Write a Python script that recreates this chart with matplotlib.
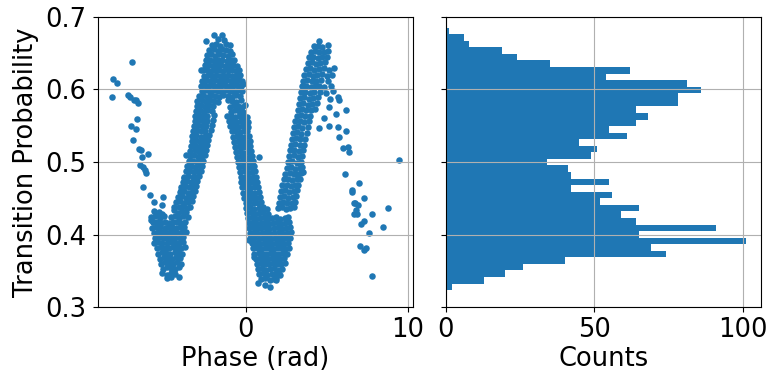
import numpy as np
import matplotlib
matplotlib.use('Agg')
from matplotlib import pyplot as plt

# (phase, probability) points, split by region
left_tail = [(-8.20,.589),(-8.14,.614),(-7.90,.609),(-7.01,.637),(-7.26,.592),(-7.12,.590),
    (-6.87,.585),(-6.71,.585),(-6.61,.581),(-6.67,.559),(-7.04,.549),(-6.71,.545),(-6.91,.530),
    (-6.54,.518),(-6.44,.516),(-6.36,.507),(-5.99,.511),(-6.50,.496),(-6.30,.493),(-6.20,.489),
    (-6.13,.485),(-6.30,.466),(-5.85,.455),(-5.63,.445),(-5.07,.452),(-5.13,.441),(-5.79,.420),
    (-5.72,.418),(-5.38,.429),(-5.13,.429)]

left_valley = [(-5.62,.433),(-5.35,.431),(-4.42,.434),(-4.18,.430),(-3.93,.433),(-3.66,.431),
    (-5.81,.424),(-5.55,.426),(-5.28,.423),(-5.02,.425),(-4.60,.424),(-4.33,.426),(-4.07,.423),(-3.82,.425),(-3.57,.424),
    (-5.70,.417),(-5.46,.418),(-5.19,.416),(-4.93,.418),(-4.71,.416),(-4.47,.418),(-4.22,.417),(-3.96,.416),(-3.71,.418),
    (-5.76,.409),(-5.51,.411),(-5.24,.410),(-4.98,.409),(-4.76,.411),(-4.52,.410),(-4.27,.409),(-4.01,.411),(-3.76,.410),
    (-5.66,.402),(-5.41,.404),(-5.16,.403),(-4.91,.402),(-4.66,.404),(-4.41,.403),(-4.16,.402),(-3.91,.404),(-3.67,.403),
    (-5.58,.395),(-5.31,.397),(-5.06,.396),(-4.81,.395),(-4.56,.397),(-4.31,.396),(-4.06,.395),(-3.82,.397),
    (-5.62,.388),(-5.36,.390),(-5.11,.389),(-4.86,.388),(-4.61,.390),(-4.36,.389),(-4.11,.388),(-3.86,.390),
    (-5.47,.381),(-5.22,.383),(-4.97,.382),(-4.72,.381),(-4.47,.383),(-4.22,.382),(-3.97,.381),(-3.72,.383),
    (-5.38,.374),(-5.12,.376),(-4.87,.375),(-4.62,.374),(-4.37,.376),(-4.12,.375),(-3.88,.374),
    (-5.27,.367),(-5.02,.369),(-4.77,.368),(-4.52,.367),(-4.27,.369),(-4.02,.368),
    (-5.21,.360),(-4.96,.362),(-4.71,.361),(-4.46,.360),(-4.21,.362),(-3.98,.360),
    (-5.08,.353),(-4.83,.355),(-4.58,.354),(-4.33,.353),(-4.12,.355),
    (-5.12,.347),(-4.86,.345),(-4.60,.347),(-4.35,.346),
    (-4.85,.340),(-4.60,.342),(-4.09,.342)]

left_rise = [(-4.38,.438),(-4.12,.438),(-3.87,.439),(-3.62,.437),(-3.44,.438),
    (-4.27,.445),(-4.02,.446),(-3.77,.444),(-3.52,.445),(-3.30,.446),
    (-4.17,.452),(-3.92,.453),(-3.67,.451),(-3.42,.452),(-3.24,.453),
    (-4.06,.459),(-3.81,.460),(-3.56,.458),(-3.31,.459),(-3.14,.460),
    (-3.96,.466),(-3.71,.467),(-3.46,.465),(-3.21,.466),(-3.05,.467),
    (-3.86,.473),(-3.61,.474),(-3.36,.472),(-3.11,.473),(-2.96,.474),
    (-3.76,.480),(-3.51,.481),(-3.26,.479),(-3.01,.480),(-2.86,.481),
    (-3.66,.487),(-3.41,.488),(-3.16,.486),(-2.91,.487),(-2.76,.488),
    (-3.58,.494),(-3.33,.495),(-3.08,.493),(-2.83,.494),(-2.68,.495),
    (-3.49,.501),(-3.24,.502),(-2.99,.500),(-2.74,.501),(-2.60,.502),
    (-3.43,.508),(-3.18,.509),(-2.93,.507),(-2.68,.508),(-2.50,.509),
    (-3.39,.515),(-3.14,.516),(-2.89,.514),(-2.64,.515),(-2.43,.516),
    (-3.35,.522),(-3.10,.523),(-2.85,.521),(-2.60,.522),(-2.37,.523),
    (-3.31,.529),(-3.06,.530),(-2.81,.528),(-2.56,.529),(-2.30,.530),
    (-3.27,.536),(-3.02,.537),(-2.77,.535),(-2.52,.536),(-2.22,.537),
    (-3.23,.543),(-2.98,.544),(-2.73,.542),(-2.48,.543),(-2.15,.544),
    (-3.20,.550),(-2.95,.551),(-2.70,.549),(-2.45,.550),(-2.08,.551),
    (-3.14,.557),(-2.89,.558),(-2.64,.556),(-2.39,.557),(-2.01,.558),
    (-3.10,.564),(-2.85,.565),(-2.60,.563),(-2.35,.564),(-1.95,.565),
    (-3.64,.510),(-3.80,.478),(-3.95,.462)]

peak_one = [(-1.94,.675),(-1.43,.675),
    (-2.41,.667),(-1.72,.669),(-1.30,.668),
    (-2.08,.661),(-1.83,.662),(-1.56,.660),(-1.21,.662),(-0.97,.661),
    (-2.22,.654),(-1.96,.655),(-1.71,.653),(-1.46,.655),(-1.20,.654),(-0.94,.653),
    (-2.36,.647),(-2.11,.648),(-1.86,.646),(-1.61,.648),(-1.36,.647),(-1.11,.646),(-0.86,.648),
    (-2.42,.640),(-2.17,.641),(-1.92,.639),(-1.67,.641),(-1.42,.640),(-1.17,.639),(-0.92,.641),(-0.70,.640),
    (-2.52,.633),(-2.27,.634),(-2.02,.632),(-1.77,.634),(-1.52,.633),(-1.27,.632),(-1.02,.634),(-0.77,.633),(-0.55,.632),
    (-2.61,.626),(-2.36,.627),(-2.11,.625),(-1.86,.627),(-1.61,.626),(-1.36,.625),(-1.11,.627),(-0.86,.626),(-0.61,.625),(-0.41,.627),
    (-2.56,.619),(-2.31,.620),(-2.06,.618),(-1.81,.620),(-1.56,.619),(-1.31,.618),(-1.06,.620),(-0.81,.619),(-0.56,.618),(-0.34,.620),
    (-2.66,.612),(-2.41,.613),(-2.16,.611),(-1.91,.613),(-1.66,.612),(-1.41,.611),(-1.16,.613),(-0.91,.612),(-0.66,.611),(-0.42,.613),(-0.24,.612),
    (-2.76,.605),(-2.51,.606),(-2.26,.604),(-2.01,.606),(-1.76,.605),(-1.51,.604),(-1.26,.606),(-1.01,.605),(-0.76,.604),(-0.51,.606),(-0.29,.605),
    (-2.71,.598),(-2.46,.599),(-2.21,.597),(-1.96,.599),(-1.71,.598),(-1.46,.597),(-1.21,.599),(-0.96,.598),(-0.71,.597),(-0.46,.599),(-0.21,.598),
    (-2.86,.591),(-2.61,.592),(-2.36,.590),(-2.11,.592),(-1.86,.591),(-1.61,.590),(-1.36,.592),(-1.11,.591),(-0.86,.590),(-0.61,.592),(-0.36,.591),
    (-2.96,.584),(-2.71,.585),(-2.46,.583),(-2.21,.585),(-1.96,.584),(-1.68,.583),(-1.08,.585),(-0.82,.584),(-0.57,.583),(-0.31,.585),
    (-3.01,.577),(-2.76,.578),(-2.51,.576),(-2.26,.578),(-2.02,.577),(-0.97,.576),(-0.72,.578),(-0.47,.577),(-0.22,.576),
    (-3.06,.570),(-2.81,.571),(-2.56,.569),(-2.31,.571),(-2.06,.570),(-0.88,.569),(-0.63,.571),(-0.38,.570),(-0.16,.569),
    (-0.06,.578),(-2.72,.627),(-0.17,.608)]

right_fall = [(-1.12,.563),(-0.88,.564),(-0.63,.562),(-0.38,.563),(-0.13,.564),(0.08,.562),
    (-1.02,.556),(-0.78,.557),(-0.53,.555),(-0.28,.556),(-0.04,.557),(0.15,.555),
    (-0.94,.549),(-0.70,.550),(-0.45,.548),(-0.20,.549),(0.04,.550),(0.18,.548),
    (-0.86,.542),(-0.62,.543),(-0.37,.541),(-0.12,.542),(0.12,.543),
    (-0.79,.535),(-0.55,.536),(-0.30,.534),(-0.05,.535),(0.22,.536),
    (-0.72,.528),(-0.48,.529),(-0.23,.527),(0.02,.528),(0.26,.529),
    (-0.64,.521),(-0.40,.522),(-0.15,.520),(0.10,.521),(0.30,.522),
    (-0.57,.514),(-0.33,.515),(-0.08,.513),(0.17,.514),(0.35,.515),
    (-0.50,.507),(-0.26,.508),(-0.01,.506),(0.24,.507),(0.40,.508),
    (-0.44,.500),(-0.20,.501),(0.05,.499),(0.30,.500),(0.46,.501),
    (-0.38,.493),(-0.14,.494),(0.11,.492),(0.36,.493),(0.53,.494),
    (-0.34,.486),(-0.10,.487),(0.15,.485),(0.40,.486),(0.58,.487),
    (-0.30,.479),(-0.06,.480),(0.19,.478),(0.44,.479),(0.64,.480),
    (-0.26,.472),(-0.02,.473),(0.23,.471),(0.48,.472),(0.70,.473),
    (-0.22,.465),(0.02,.466),(0.27,.464),(0.52,.465),(0.76,.466),
    (-0.16,.458),(0.08,.459),(0.33,.457),(0.58,.458),(0.82,.459),
    (-0.08,.451),(0.16,.452),(0.41,.450),(0.66,.451),(0.90,.452),
    (0.00,.444),(0.24,.445),(0.49,.443),(0.74,.444),(0.96,.445),
    (0.05,.437),(0.30,.438),(0.55,.436),(0.80,.437),(1.05,.438),(1.30,.436),
    (0.10,.430),(0.35,.431),(0.60,.429),(0.85,.430),(1.10,.431),(1.40,.429),
    (0.80,.507)]

valley_two = [(0.15,.423),(0.40,.424),(0.65,.422),(0.90,.423),(1.15,.424),(1.40,.422),(1.65,.423),(1.90,.424),(2.15,.422),(2.40,.423),(2.62,.424),
    (0.20,.416),(0.45,.417),(0.70,.415),(0.95,.416),(1.20,.417),(1.45,.415),(1.70,.416),(1.95,.417),(2.20,.415),(2.45,.416),(2.70,.417),
    (0.22,.409),(0.47,.410),(0.72,.408),(0.97,.409),(1.22,.410),(1.47,.408),(1.72,.409),(1.97,.410),(2.22,.408),(2.47,.409),(2.72,.410),
    (0.28,.402),(0.53,.403),(0.78,.401),(1.03,.402),(1.28,.403),(1.53,.401),(1.78,.402),(2.03,.403),(2.28,.401),(2.53,.402),(2.78,.403),
    (0.30,.395),(0.55,.396),(0.80,.394),(1.05,.395),(1.30,.396),(1.55,.394),(1.80,.395),(2.05,.396),(2.30,.394),(2.55,.395),(2.76,.396),
    (0.38,.388),(0.63,.389),(0.88,.387),(1.13,.388),(1.38,.389),(1.63,.387),(1.88,.388),(2.13,.389),(2.38,.387),(2.62,.388),
    (0.45,.381),(0.70,.382),(0.95,.380),(1.20,.381),(1.45,.382),(1.70,.380),(1.95,.381),(2.20,.382),(2.45,.380),(2.65,.381),
    (0.55,.374),(0.80,.375),(1.05,.373),(1.30,.374),(1.55,.375),(1.80,.373),(2.05,.374),(2.30,.375),(2.55,.373),
    (0.62,.367),(0.87,.368),(1.12,.366),(1.37,.367),(1.62,.368),(1.87,.366),(2.12,.367),(2.37,.368),
    (0.70,.360),(0.95,.361),(1.20,.359),(1.45,.360),(1.70,.361),(1.95,.359),(2.20,.360),(2.42,.361),
    (0.78,.353),(1.03,.354),(1.28,.352),(1.53,.353),(1.78,.354),(2.03,.352),(2.25,.353),
    (0.85,.346),(1.10,.347),(1.35,.345),(1.60,.346),(1.85,.347),(2.10,.345),
    (0.98,.339),(1.22,.340),(1.48,.338),(1.72,.339),(1.90,.340),
    (0.75,.334),(1.17,.331),(1.51,.328),(1.88,.338),
    (0.49,.369),(0.20,.392)]

right_rise = [(1.98,.437),(2.24,.438),(2.50,.436),(2.76,.437),(2.98,.438),
    (2.05,.444),(2.31,.445),(2.57,.443),(2.83,.444),(3.05,.445),
    (2.12,.452),(2.38,.453),(2.64,.451),(2.90,.452),(3.10,.453),
    (2.18,.460),(2.44,.461),(2.70,.459),(2.96,.460),(3.18,.461),
    (2.26,.468),(2.52,.469),(2.78,.467),(3.04,.468),(3.25,.469),
    (2.36,.476),(2.62,.477),(2.88,.475),(3.14,.476),(3.34,.477),
    (2.45,.484),(2.71,.485),(2.97,.483),(3.23,.484),(3.40,.485),
    (2.54,.492),(2.80,.493),(3.06,.491),(3.32,.492),(3.48,.493),
    (2.62,.500),(2.88,.501),(3.14,.499),(3.40,.500),
    (2.70,.508),(2.96,.509),(3.22,.507),(3.50,.508),
    (2.74,.516),(3.00,.517),(3.26,.515),(3.55,.516),
    (2.80,.524),(3.06,.525),(3.32,.523),(3.62,.524),
    (2.84,.532),(3.10,.533),(3.36,.531),(3.68,.532),
    (2.90,.540),(3.16,.541),(3.42,.539),(3.76,.540),
    (2.98,.548),(3.24,.549),(3.50,.547),(3.82,.548),
    (3.06,.556),(3.32,.557),(3.58,.555),(3.88,.556),
    (3.14,.564),(3.40,.565),(3.66,.563),(3.95,.564),
    (3.52,.486)]

peak_two = [(3.22,.572),(3.48,.573),(3.74,.571),(4.00,.572),(4.26,.573),
    (3.30,.580),(3.56,.581),(3.82,.579),(4.08,.580),(4.40,.581),
    (3.36,.588),(3.62,.589),(3.88,.587),(4.14,.588),(4.45,.589),(5.20,.587),
    (3.42,.596),(3.68,.597),(3.94,.595),(4.20,.596),(4.60,.597),(4.95,.595),
    (3.48,.604),(3.74,.605),(4.00,.603),(4.26,.604),(4.55,.605),(4.85,.603),(5.25,.604),
    (3.55,.612),(3.81,.613),(4.07,.611),(4.33,.612),(4.62,.613),(5.05,.611),
    (3.62,.620),(3.88,.621),(4.14,.619),(4.40,.620),(4.70,.621),(5.00,.619),(5.30,.620),
    (3.72,.628),(3.98,.629),(4.24,.627),(4.50,.628),(4.80,.629),(5.15,.627),(5.42,.630),
    (3.82,.636),(4.08,.637),(4.34,.635),(4.60,.636),(4.90,.637),
    (3.92,.644),(4.18,.645),(4.44,.643),(4.70,.644),(5.00,.645),
    (4.02,.652),(4.28,.653),(4.54,.651),(4.80,.652),(5.05,.653),
    (4.20,.659),(4.45,.660),(4.72,.658),
    (4.50,.666),(5.05,.661),
    (5.66,.590),(5.77,.585),(6.18,.571),(5.15,.576),(4.54,.547),(5.15,.549),
    (5.66,.548),(5.77,.535),(6.18,.542),(5.97,.519),(6.28,.521),(6.38,.514),
    (4.85,.560),(5.40,.598),(5.55,.566)]

right_tail = [(6.13,.483),(6.58,.459),(6.75,.443),(6.83,.429),(9.45,.503),(6.99,.471),
    (6.58,.462),(7.30,.451),(6.69,.443),(6.89,.441),(6.79,.434),(6.69,.429),(8.79,.437),
    (7.77,.429),(7.30,.419),(7.10,.414),(8.47,.411),(7.61,.402),(7.06,.385),(7.40,.382),
    (7.26,.379),(7.80,.343)]

# histogram of transition probability, 40 bins, top bin first
counts = [1, 6, 8, 19, 24, 35, 62, 54, 81, 86,
          78, 78, 64, 68, 64, 55, 61, 45, 51, 49,
          34, 41, 42, 55, 42, 56, 52, 65, 59, 64,
          91, 65, 101, 69, 74, 40, 26, 20, 13, 2]
prob_lo, prob_hi = 0.3236, 0.6849

pts = np.array(left_tail + left_valley + left_rise + peak_one +
               right_fall + valley_two + right_rise + peak_two + right_tail)
phase = pts[:, 0]
prob = pts[:, 1]

edges = np.linspace(prob_lo, prob_hi, len(counts) + 1)
centers = (edges[:-1] + edges[1:]) / 2
bar_counts = np.array(counts[::-1])

plt.rcParams['font.size'] = 18.5

fig = plt.figure(figsize=(7.69, 3.78), dpi=100)
ax1 = fig.add_axes([0.1274, 0.187, 0.4096, 0.7688])
ax2 = fig.add_axes([0.5796, 0.187, 0.41, 0.7688], sharey=ax1)

ax1.scatter(phase, prob, s=22, linewidths=0, color='#1f77b4')
ax1.set_xlim(-9.08, 10.3)
ax1.set_ylim(0.3, 0.7)
ax1.set_xticks([0, 10])
ax1.set_yticks([0.3, 0.4, 0.5, 0.6, 0.7])
ax1.set_xlabel('Phase (rad)', labelpad=2)
ax1.set_ylabel('Transition Probability', labelpad=4)
ax1.tick_params(axis='y', pad=5)
ax1.grid(True)

ax2.barh(centers, bar_counts, height=edges[1] - edges[0], color='#1f77b4')
ax2.set_xticks([0, 50, 100])
ax2.set_xlabel('Counts', labelpad=2)
ax2.tick_params(labelleft=False)
ax2.grid(True)

fig.savefig('out.png', dpi=100)
